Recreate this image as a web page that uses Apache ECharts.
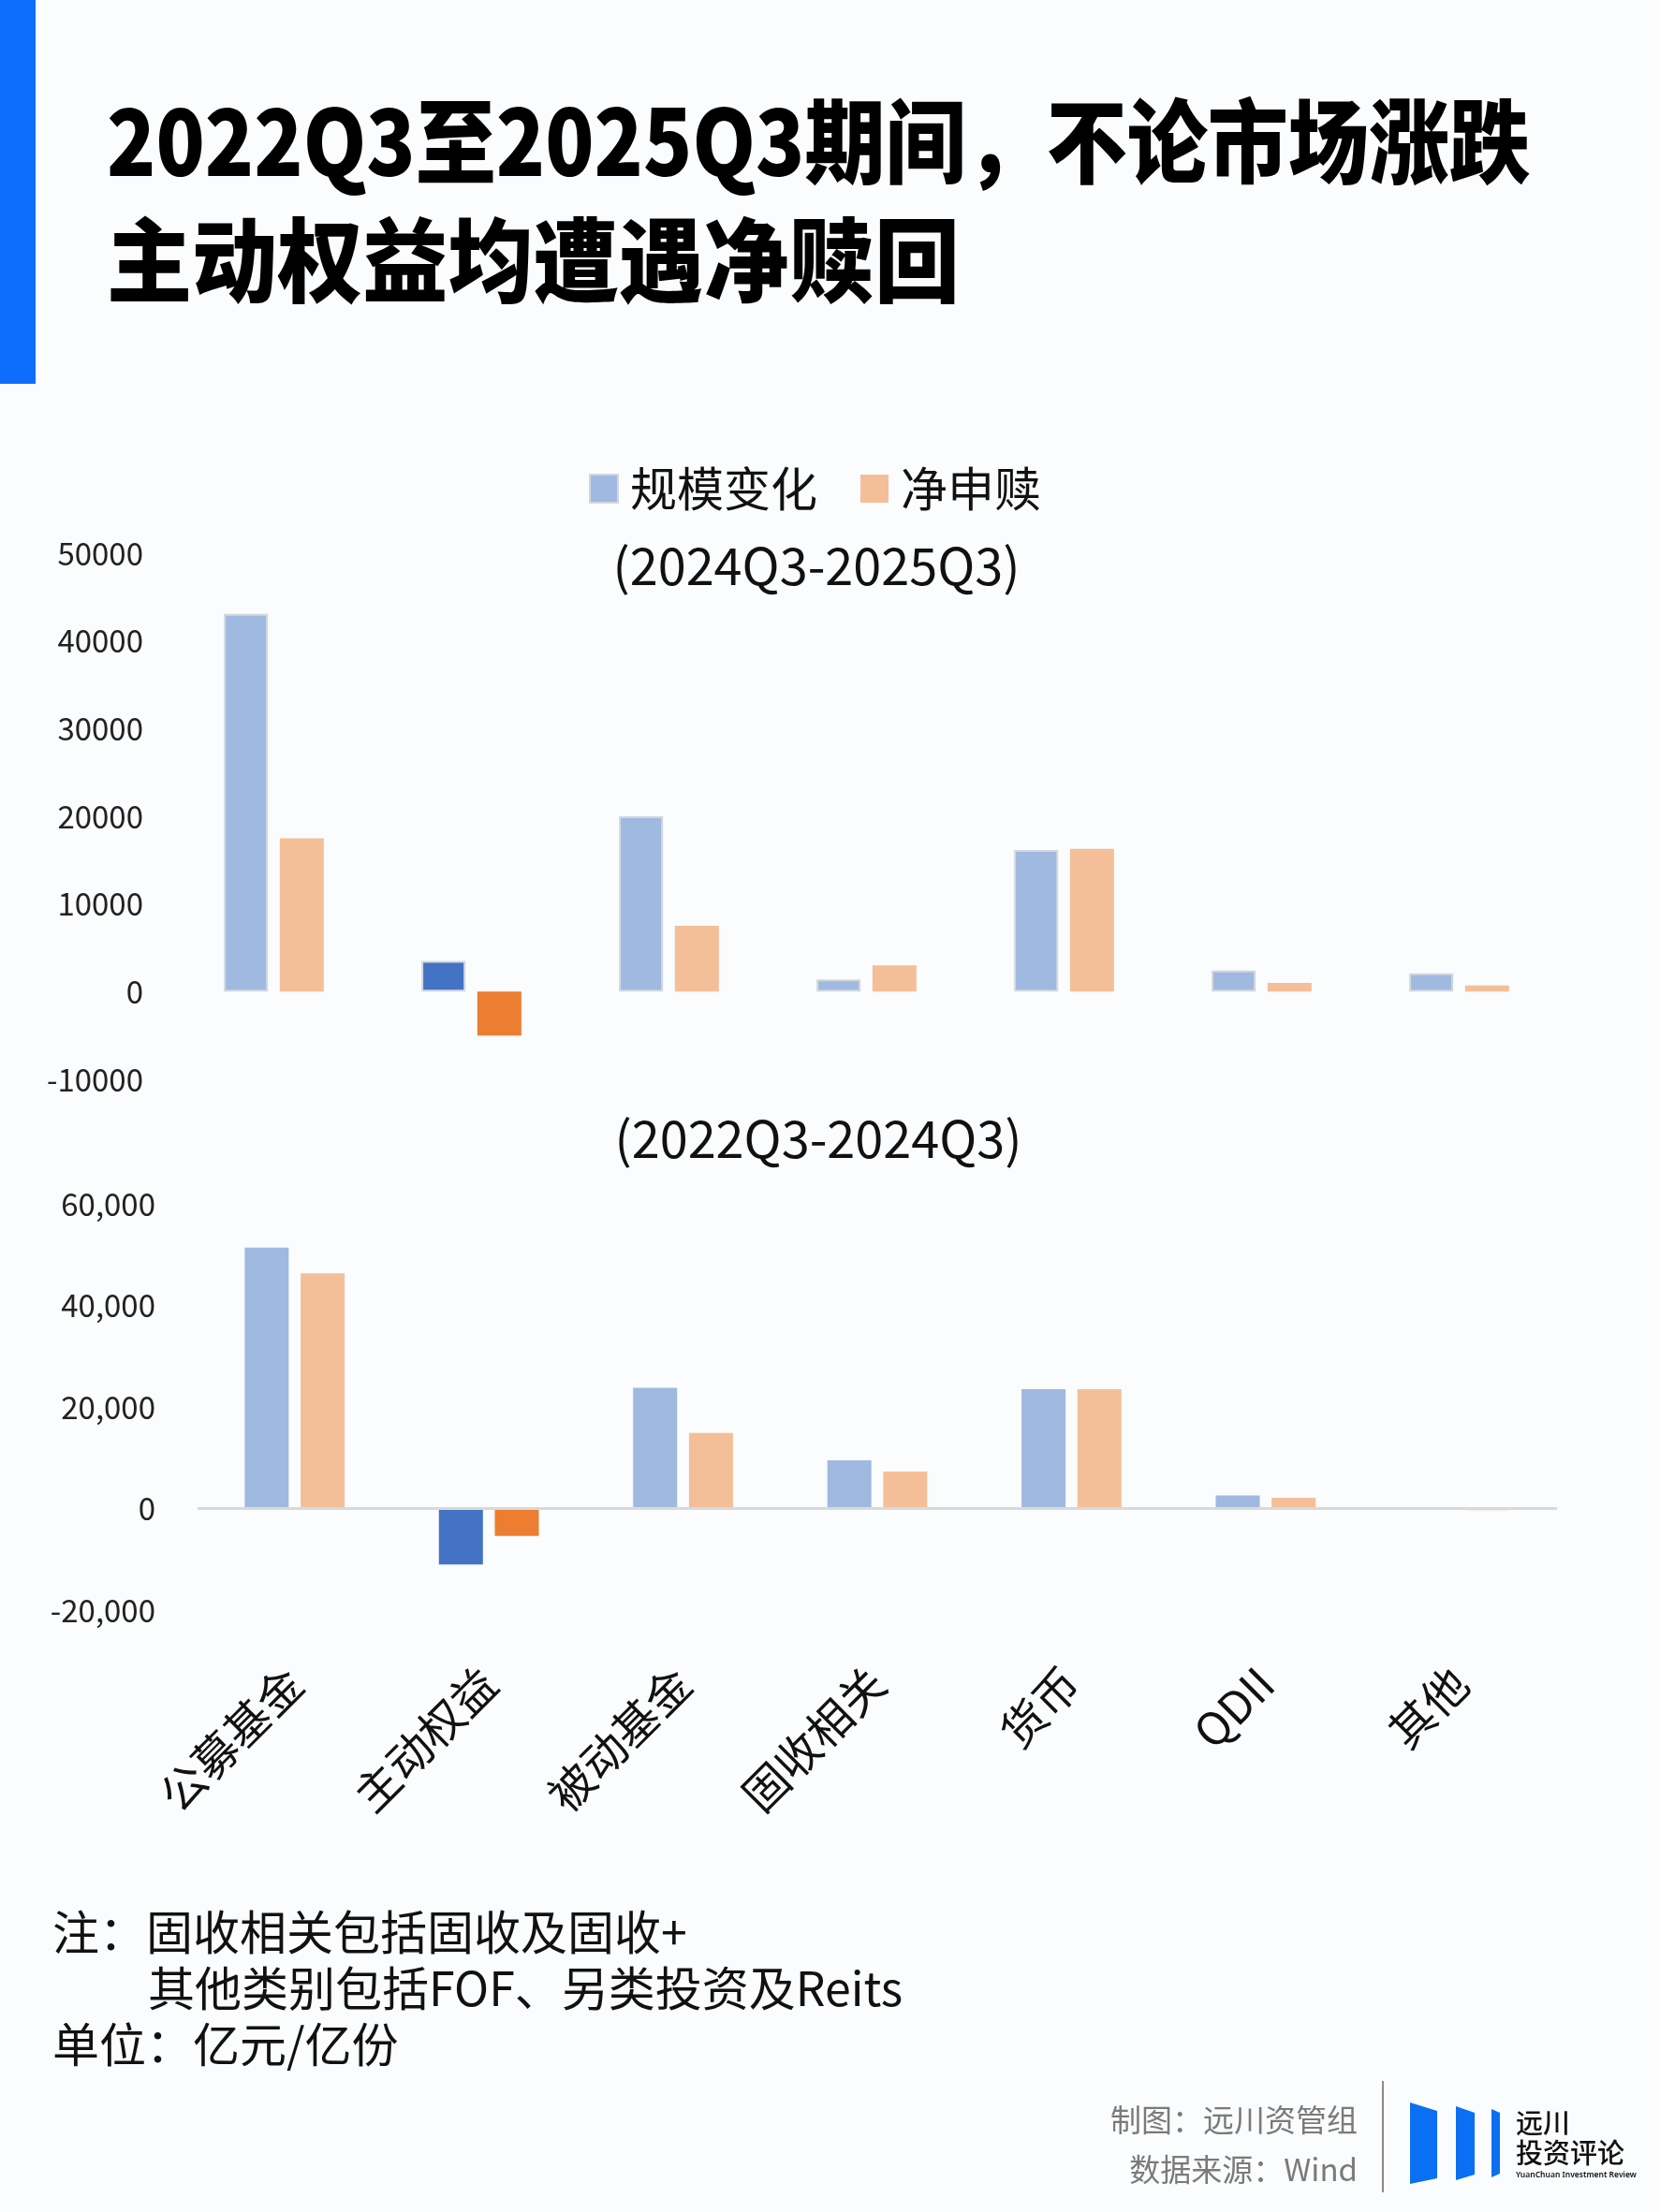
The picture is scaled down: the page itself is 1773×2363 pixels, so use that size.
<!DOCTYPE html>
<html><head><meta charset="utf-8">
<script src="https://cdn.jsdelivr.net/npm/echarts@6/dist/echarts.min.js"></script>
<style>html,body{margin:0;padding:0;background:#FAFCFD}#c{width:1773px;height:2363px}</style>
</head><body><div id="c"></div>
<script>
// ---- data ----
const categories = ['公募基金', '主动权益', '被动基金', '固收相关', '货币', 'QDII', '其他'];
const seriesNames = ['规模变化', '净申赎'];
// 2024Q3-2025Q3
const scaleChangeRecent = [43100, 3500, 20000, 1400, 16150, 2400, 2100];
const netFlowRecent = [17500, -5000, 7500, 3000, 16300, 1000, 700];
// 2022Q3-2024Q3
const scaleChangeEarlier = [51400, -11000, 23800, 9500, 23500, 2600, 250];
const netFlowEarlier = [46300, -5400, 14900, 7300, 23500, 2100, -300];
const yTicksRecent = [-10000, 0, 10000, 20000, 30000, 40000, 50000];
const yTicksEarlier = [-20000, 0, 20000, 40000, 60000];
const titleLines = ['2022Q3至2025Q3期间，不论市场涨跌', '主动权益均遭遇净赎回'];
const subTitles = ['(2024Q3-2025Q3)', '(2022Q3-2024Q3)'];
const notes = ['注：固收相关包括固收及固收+', '其他类别包括FOF、另类投资及Reits', '单位：亿元/亿份'];
const credits = ['制图：远川资管组', '数据来源：Wind'];

// ---- styles ----
const LIGHT_BLUE = '#A0B9E1', LIGHT_ORANGE = '#F4BF98';
const DARK_BLUE = '#4472C4', DARK_ORANGE = '#ED7D31';
const highlight = categories.indexOf('主动权益');
const CJK = '"Noto Sans CJK SC", "Noto Sans", sans-serif';
const TITLE_FONT = '900 98px ' + CJK;

function buildData(vals, dark) {
  return vals.map((v, i) => i === highlight ? { value: v, itemStyle: { color: dark } } : v);
}
function measure(text, font) {
  const ctx = document.createElement('canvas').getContext('2d');
  ctx.font = font;
  return ctx.measureText(text).width;
}
// horizontal fit of the title lines to the reference widths
const titleScale1 = 1520 / measure(titleLines[0], TITLE_FONT);
const titleScale2 = 911 / measure(titleLines[1], TITLE_FONT);

const chart = echarts.init(document.getElementById('c'), null, { renderer: 'canvas' });

const yLabel = { fontFamily: CJK, fontSize: 33, color: '#222' };

const option = {
  backgroundColor: '#FAFCFD',
  animation: false,
  legend: {
    data: seriesNames,
    left: 624, top: 492,
    itemWidth: 30, itemHeight: 30, itemGap: 46,
    textStyle: { fontFamily: CJK, fontSize: 50, color: '#111', padding: [0, 0, 0, 8] },
    icon: 'rect'
  },
  grid: [
    { left: 187, width: 1477, top: 591, height: 562 },
    { left: 211, width: 1452, top: 1286, height: 434 }
  ],
  xAxis: [
    { type: 'category', gridIndex: 0, data: categories, show: false },
    { type: 'category', gridIndex: 1, data: categories,
      axisLine: { show: false, onZero: false }, axisTick: { show: false },
      axisLabel: { rotate: 45, margin: 70, fontFamily: CJK, fontSize: 48, color: '#111', interval: 0 } }
  ],
  yAxis: [
    { type: 'value', gridIndex: 0, min: yTicksRecent[0], max: yTicksRecent[yTicksRecent.length - 1],
      interval: yTicksRecent[1] - yTicksRecent[0], splitLine: { show: false },
      axisLine: { show: false }, axisTick: { show: false },
      axisLabel: Object.assign({ margin: 34, formatter: v => String(v) }, yLabel) },
    { type: 'value', gridIndex: 1, min: yTicksEarlier[0], max: yTicksEarlier[yTicksEarlier.length - 1],
      interval: yTicksEarlier[1] - yTicksEarlier[0], splitLine: { show: false },
      axisLine: { show: false }, axisTick: { show: false },
      axisLabel: Object.assign({ margin: 45, formatter: v => v.toLocaleString('en-US') }, yLabel) }
  ],
  series: [
    { name: seriesNames[0], type: 'bar', xAxisIndex: 0, yAxisIndex: 0, barWidth: 47, barGap: '27%',
      itemStyle: { color: LIGHT_BLUE, borderColor: '#D3D7DD', borderWidth: 2 },
      data: buildData(scaleChangeRecent, DARK_BLUE) },
    { name: seriesNames[1], type: 'bar', xAxisIndex: 0, yAxisIndex: 0, barWidth: 47, barGap: '27%',
      itemStyle: { color: LIGHT_ORANGE },
      data: buildData(netFlowRecent, DARK_ORANGE) },
    { name: seriesNames[0], type: 'bar', xAxisIndex: 1, yAxisIndex: 1, barWidth: 47, barGap: '27%',
      itemStyle: { color: LIGHT_BLUE },
      data: buildData(scaleChangeEarlier, DARK_BLUE),
      markLine: { silent: true, symbol: 'none', label: { show: false },
        lineStyle: { color: '#D9D9D9', width: 3, type: 'solid' }, data: [{ yAxis: 0 }] } },
    { name: seriesNames[1], type: 'bar', xAxisIndex: 1, yAxisIndex: 1, barWidth: 47, barGap: '27%',
      itemStyle: { color: LIGHT_ORANGE },
      data: buildData(netFlowEarlier, DARK_ORANGE) }
  ],
  graphic: [
    { type: 'rect', shape: { x: 0, y: 0, width: 38, height: 410 }, style: { fill: '#0D6EFD' } },
    { type: 'text', x: 114, y: 151, scaleX: titleScale1, style: { text: titleLines[0], font: TITLE_FONT, fill: '#000', textAlign: 'left', textVerticalAlign: 'middle' } },
    { type: 'text', x: 114, y: 278, scaleX: titleScale2, style: { text: titleLines[1], font: TITLE_FONT, fill: '#000', textAlign: 'left', textVerticalAlign: 'middle' } },
    { type: 'text', x: 872, y: 604, style: { text: subTitles[0], font: '54px ' + CJK, fill: '#111', textAlign: 'center', textVerticalAlign: 'middle' } },
    { type: 'text', x: 874, y: 1216, style: { text: subTitles[1], font: '54px ' + CJK, fill: '#111', textAlign: 'center', textVerticalAlign: 'middle' } },
    { type: 'text', x: 56, y: 2064, style: { text: notes[0], font: '50px ' + CJK, fill: '#111', textAlign: 'left', textVerticalAlign: 'middle' } },
    { type: 'text', x: 158, y: 2124, style: { text: notes[1], font: '50px ' + CJK, fill: '#111', textAlign: 'left', textVerticalAlign: 'middle' } },
    { type: 'text', x: 56, y: 2184, style: { text: notes[2], font: '50px ' + CJK, fill: '#111', textAlign: 'left', textVerticalAlign: 'middle' } },
    { type: 'text', x: 1450, y: 2264, style: { text: credits[0], font: '33px ' + CJK, fill: '#7A7A7A', textAlign: 'right', textVerticalAlign: 'middle' } },
    { type: 'text', x: 1450, y: 2317, style: { text: credits[1], font: '33px ' + CJK, fill: '#7A7A7A', textAlign: 'right', textVerticalAlign: 'middle' } },
    { type: 'line', shape: { x1: 1477, y1: 2223, x2: 1477, y2: 2342 }, style: { stroke: '#8A8A8A', lineWidth: 2 } },
    { type: 'polygon', shape: { points: [[1506, 2246], [1535, 2255], [1535, 2327], [1506, 2333]] }, style: { fill: '#0B6FF4' } },
    { type: 'polygon', shape: { points: [[1555, 2250], [1575, 2257], [1575, 2323], [1555, 2329]] }, style: { fill: '#0B6FF4' } },
    { type: 'polygon', shape: { points: [[1593, 2253], [1602, 2257], [1602, 2322], [1593, 2326]] }, style: { fill: '#0B6FF4' } },
    { type: 'text', x: 1619, y: 2268, style: { text: '远川', font: '500 29px ' + CJK, fill: '#111', textAlign: 'left', textVerticalAlign: 'middle' } },
    { type: 'text', x: 1619, y: 2300, style: { text: '投资评论', font: '500 29px ' + CJK, fill: '#111', textAlign: 'left', textVerticalAlign: 'middle' } },
    { type: 'text', x: 1619, y: 2324, style: { text: 'YuanChuan Investment Review', font: '600 8.5px "Noto Sans", sans-serif', fill: '#111', textAlign: 'left', textVerticalAlign: 'middle' } }
  ]
};
chart.setOption(option);
</script></body></html>
